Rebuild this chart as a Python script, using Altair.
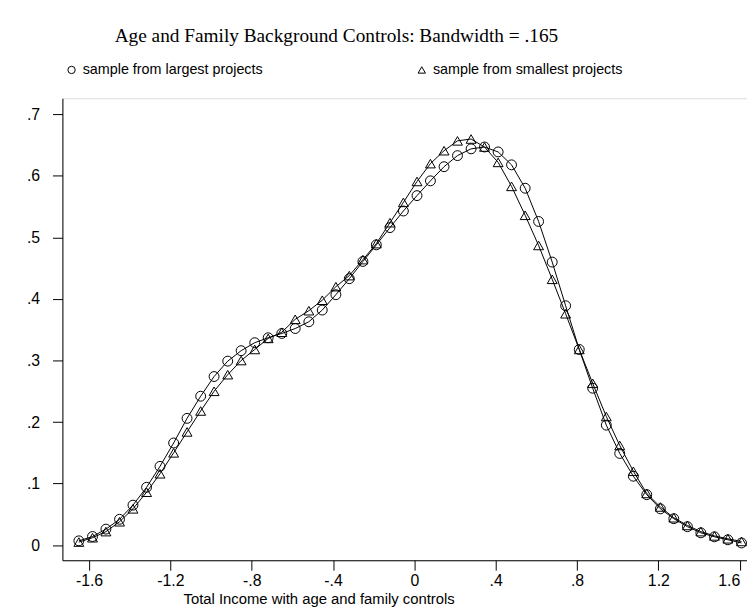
import altair as alt
import pandas as pd

# ---- data ----
x_grid = [-1.650, -1.583, -1.517, -1.450, -1.384, -1.317, -1.251, -1.184, -1.118, -1.051,
          -0.985, -0.918, -0.852, -0.785, -0.719, -0.652, -0.586, -0.519, -0.453, -0.386,
          -0.320, -0.253, -0.187, -0.120, -0.054, 0.013, 0.079, 0.146, 0.212, 0.279,
          0.345, 0.412, 0.478, 0.545, 0.611, 0.678, 0.744, 0.811, 0.877, 0.944,
          1.010, 1.077, 1.143, 1.210, 1.276, 1.343, 1.409, 1.476, 1.542, 1.609]

largest = [0.007, 0.014, 0.026, 0.042, 0.065, 0.094, 0.128, 0.166, 0.206, 0.242,
           0.274, 0.299, 0.316, 0.329, 0.337, 0.344, 0.352, 0.363, 0.382, 0.407,
           0.433, 0.461, 0.488, 0.516, 0.543, 0.568, 0.592, 0.615, 0.633, 0.644,
           0.647, 0.639, 0.618, 0.580, 0.526, 0.460, 0.389, 0.318, 0.255, 0.195,
           0.149, 0.112, 0.082, 0.059, 0.043, 0.030, 0.020, 0.0135, 0.0087, 0.0035]

smallest = [0.005, 0.012, 0.022, 0.038, 0.059, 0.086, 0.116, 0.150, 0.184, 0.218,
            0.250, 0.277, 0.300, 0.318, 0.336, 0.346, 0.367, 0.381, 0.398, 0.420,
            0.438, 0.464, 0.490, 0.524, 0.557, 0.591, 0.620, 0.641, 0.657, 0.660,
            0.647, 0.622, 0.583, 0.536, 0.487, 0.432, 0.376, 0.318, 0.263, 0.209,
            0.162, 0.120, 0.084, 0.062, 0.0445, 0.032, 0.022, 0.015, 0.0103, 0.006]

series_labels = ["sample from largest projects", "sample from smallest projects"]
series_shapes = ["circle", "triangle-up"]
x_ticks = [-1.6, -1.2, -0.8, -0.4, 0, 0.4, 0.8, 1.2, 1.6]
y_ticks = [0, 0.1, 0.2, 0.3, 0.4, 0.5, 0.6, 0.7]

title_text = "Age and Family Background Controls: Bandwidth = .165"
x_title = "Total Income with age and family controls"

rows = []
for lab, vals in zip(series_labels, [largest, smallest]):
    for xv, yv in zip(x_grid, vals):
        rows.append({"x": xv, "density": yv, "series": lab})
df = pd.DataFrame(rows)

SANS = "Liberation Sans"
SERIF = "Liberation Serif"

stata_label = ("datum.value == 0 ? '0' : "
               "replace(replace(format(datum.value, '.1f'), '\u2212', '-'), '0.', '.')")

x_enc = alt.X(
    "x:Q",
    scale=alt.Scale(domain=[-1.731, 1.636], nice=False, zero=False),
    axis=alt.Axis(
        values=x_ticks, labelExpr=stata_label, grid=False,
        tickSize=10, tickColor="black", domainColor="black",
        labelFont=SANS, labelFontSize=16, labelColor="black", labelPadding=3,
        labelFlush=10,
        title=x_title, titleFont=SANS, titleFontSize=15, titleFontWeight="normal",
        titleColor="black", titleX=259, titleY=32, titleBaseline="top", titleAlign="center",
    ),
)
y_enc = alt.Y(
    "density:Q",
    scale=alt.Scale(domain=[-0.0246, 0.7262], nice=False, zero=False),
    axis=alt.Axis(
        values=y_ticks, labelExpr=stata_label, grid=False,
        tickSize=10, tickColor="black", domainColor="black",
        labelFont=SANS, labelFontSize=16, labelColor="black", labelPadding=13,
        title=None,
    ),
)

lines = alt.Chart(df).mark_line(color="black", strokeWidth=1).encode(
    x=x_enc, y=y_enc, detail="series:N"
)

points = alt.Chart(df).mark_point(
    filled=False, color="black", strokeWidth=1, size=100, opacity=1
).encode(
    x=x_enc, y=y_enc,
    shape=alt.Shape(
        "series:N",
        scale=alt.Scale(domain=series_labels, range=series_shapes),
        legend=alt.Legend(
            title=None, orient="none", legendX=2, legendY=-36,
            direction="horizontal", columns=2, columnPadding=153,
            labelFont=SANS, labelFontSize=14.5, labelColor="black", labelOffset=4,
            labelLimit=400,
            symbolSize=55, symbolStrokeColor="black", symbolStrokeWidth=1,
            symbolFillColor="transparent", padding=0,
        ),
    ),
)

chart = alt.layer(lines, points).properties(
    width=692,
    height=467,
    title=alt.Title(
        title_text, font=SERIF, fontSize=19.5, fontWeight="normal", color="black",
        anchor="middle", frame="group", dx=-69, offset=16,
    ),
    autosize=alt.AutoSizeParams(type="none"),
    padding={"left": 55, "top": 88, "right": 0, "bottom": 45},
).configure_view(stroke=None).configure(background="white")

chart.save("out.html", embed_options={"renderer": "svg", "actions": False})
